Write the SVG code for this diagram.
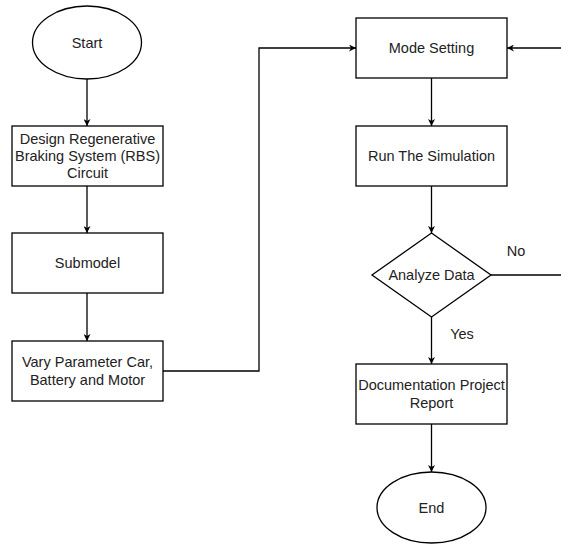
<svg xmlns="http://www.w3.org/2000/svg" width="561" height="544" viewBox="0 0 561 544">
<style>
.n{fill:#fff;stroke:#000;stroke-width:1.3}
.c{fill:none;stroke:#000;stroke-width:1.3}
text{font-family:"Liberation Sans",Arial,sans-serif;font-size:14.5px;fill:#222;text-anchor:middle;dominant-baseline:central}
</style>
<defs>
<marker id="a" viewBox="0 0 10 10" refX="10" refY="5" markerWidth="7" markerHeight="7" markerUnits="userSpaceOnUse" orient="auto">
<path d="M0,0 L10,5 L0,10 L3,5 Z" fill="#000"/>
</marker>
</defs>
<rect width="561" height="544" fill="#fff"/>
<g id="connectors">
<path class="c" d="M87,79 V126" marker-end="url(#a)"/>
<path class="c" d="M87,186 V233" marker-end="url(#a)"/>
<path class="c" d="M87,293 V341" marker-end="url(#a)"/>
<path class="c" d="M163,371 H259 V48 H356" marker-end="url(#a)"/>
<path class="c" d="M431.5,78 V126" marker-end="url(#a)"/>
<path class="c" d="M431.5,186 V233" marker-end="url(#a)"/>
<path class="c" d="M431.5,317 V364" marker-end="url(#a)"/>
<path class="c" d="M431.5,424 V472" marker-end="url(#a)"/>
<path class="c" d="M491,275 H561"/>
<path class="c" d="M561,48 H507" marker-end="url(#a)"/>
<text x="516" y="251">No</text>
<text x="462" y="334">Yes</text>
</g>
<g id="start"><ellipse class="n" cx="87" cy="42.5" rx="54.5" ry="36.5"/><text x="87" y="42.5">Start</text></g>
<g id="design"><rect class="n" x="12" y="126" width="151" height="60"/><text x="87.5" y="138.6">Design Regenerative</text><text x="87.5" y="156">Braking System (RBS)</text><text x="87.5" y="173.4">Circuit</text></g>
<g id="submodel"><rect class="n" x="12" y="233" width="151" height="60"/><text x="87.5" y="263">Submodel</text></g>
<g id="vary"><rect class="n" x="12" y="341" width="151" height="60"/><text x="87.5" y="362.3">Vary Parameter Car,</text><text x="87.5" y="379.7">Battery and Motor</text></g>
<g id="mode"><rect class="n" x="356" y="18" width="151" height="60"/><text x="431.5" y="48">Mode Setting</text></g>
<g id="run"><rect class="n" x="356" y="126" width="151" height="60"/><text x="431.5" y="156">Run The Simulation</text></g>
<g id="analyze"><polygon class="n" points="431.5,233 491,275 431.5,317 372,275"/><text x="431.5" y="275">Analyze Data</text></g>
<g id="doc"><rect class="n" x="356" y="364" width="151" height="60"/><text x="431.5" y="385.3">Documentation Project</text><text x="431.5" y="402.7">Report</text></g>
<g id="end"><ellipse class="n" cx="431.5" cy="507.5" rx="54.5" ry="35.5"/><text x="431.5" y="507.5">End</text></g>
</svg>
